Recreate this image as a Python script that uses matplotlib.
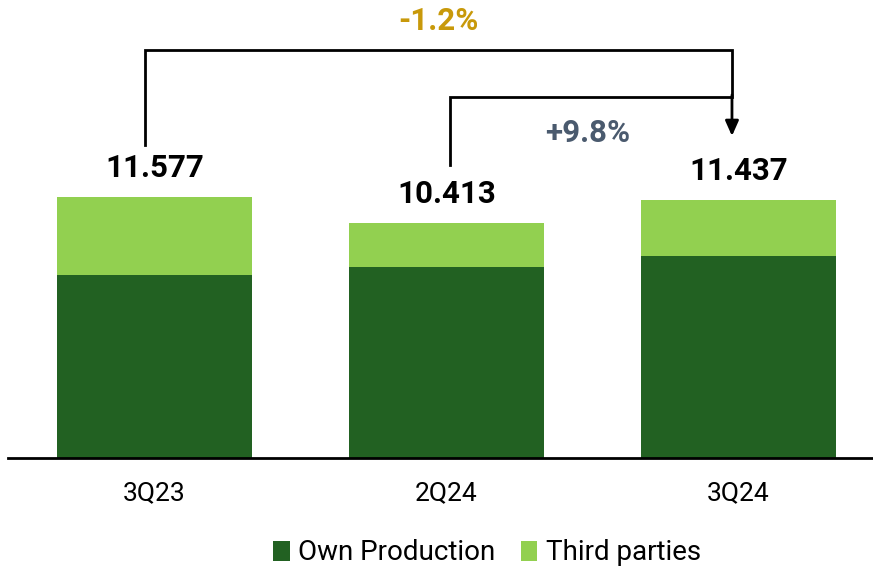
import matplotlib.pyplot as plt

plt.rcParams['font.family'] = ['Roboto', 'DejaVu Sans']

# data
quarters = ['3Q23', '2Q24', '3Q24']
totals = [11.577, 10.413, 11.437]
own_production = [8.12, 8.47, 8.96]
third_parties = [t - o for t, o in zip(totals, own_production)]
total_labels = ['11.577', '10.413', '11.437']
change_yoy = '-1.2%'
change_qoq = '+9.8%'

dark_green = '#226122'
light_green = '#92D050'

fig = plt.figure(figsize=(8.73, 5.68), dpi=100)
ax = fig.add_axes([0, 110 / 568, 1, 458 / 568])

x = list(range(len(quarters)))
ax.bar(x, own_production, width=0.67, color=dark_green, label='Own Production')
ax.bar(x, third_parties, width=0.67, bottom=own_production, color=light_green,
       label='Third parties')

ax.set_xlim(-0.529, 2.461)
ax.set_ylim(0, 20.31)

for i, t in enumerate(totals):
    ax.text(i, t + 1.3, total_labels[i], ha='center', va='center',
            fontsize=22.5, fontweight='bold', color='black')

# brackets
ax.plot([-0.0325, -0.0325, 1.978, 1.978], [13.88, 18.10, 18.10, 16.0],
        color='black', lw=2, solid_joinstyle='miter')
ax.plot([1.012, 1.012, 1.97], [13.0, 16.01, 16.01], color='black', lw=2,
        solid_joinstyle='miter')
ax.annotate('', xy=(1.978, 14.28), xytext=(1.978, 16.1),
            arrowprops=dict(arrowstyle='-|>,head_length=0.9,head_width=0.4',
                            color='black', lw=2, shrinkA=0, shrinkB=0))

ax.text(0.971, 19.38, change_yoy, ha='center', va='center', fontsize=22.5,
        fontweight='bold', color='#C8990A')
ax.text(1.485, 14.42, change_qoq, ha='center', va='center', fontsize=22.5,
        fontweight='bold', color='#4A5A6E')

for s in ['top', 'right', 'left', 'bottom']:
    ax.spines[s].set_visible(False)
ax.axhline(0, xmin=8 / 873, xmax=1, color='black', lw=2, clip_on=False)
ax.set_yticks([])
ax.set_xticks(x)
ax.set_xticklabels(quarters, fontsize=19)
ax.tick_params(axis='x', length=0, pad=17)

fig.legend(loc='center', bbox_to_anchor=(487 / 873, 1 - 553 / 568), ncol=2,
           frameon=False, fontsize=20, handlelength=0.6, handleheight=0.7,
           handletextpad=0.3, columnspacing=0.9)

fig.savefig('out.png', dpi=100)
